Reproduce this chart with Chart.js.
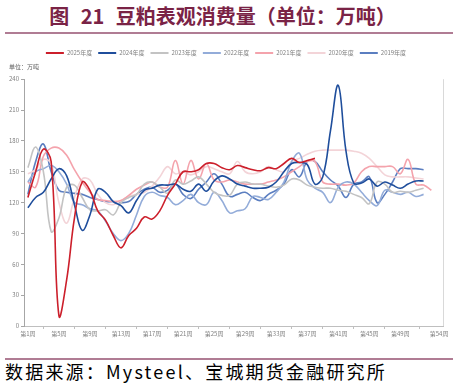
<!DOCTYPE html>
<html>
<head>
<meta charset="utf-8">
<script src="https://cdn.jsdelivr.net/npm/chart.js@4"></script>
<style>
  html, body { margin: 0; padding: 0; background: #fff; }
  body { width: 459px; height: 392px; position: relative; overflow: hidden; font-family: "Noto Sans CJK SC", sans-serif; }
  .title { position: absolute; top: 3px; left: 0; width: 445px; text-align: center; font-size: 20px; font-weight: bold; color: #7a2346; word-spacing: 7px; line-height: 26px; }
  .rule { position: absolute; left: 5px; width: 448px; height: 2px; background: #b07c94; }
  .source { position: absolute; top: 360px; left: 5px; font-size: 18px; color: #000; letter-spacing: 2.2px; line-height: 22px; white-space: nowrap; }
  #wrap { position: absolute; left: 0; top: 40px; width: 459px; height: 312px; }
</style>
</head>
<body>
<div class="title">图 21 豆粕表观消费量（单位：万吨）</div>
<div class="rule" style="top:32px"></div>
<div id="wrap"><canvas id="chart"></canvas></div>
<div class="rule" style="top:358px"></div>
<div class="source">数据来源：Mysteel、宝城期货金融研究所</div>
<script>
// weeks 第1周 .. 第54周
const weeks = [];
for (let i = 1; i <= 54; i++) weeks.push("第" + i + "周");

const seriesNames = ["2025年度", "2024年度", "2023年度", "2022年度", "2021年度", "2020年度", "2019年度"];

// 单位：万吨
const y2025 = [125, 150, 172, 160, 10, 45, 105, 140, 132, 112, 103, 88, 76, 88, 95, 106, 104, 112, 127, 138, 150, 150, 152, 158, 158, 154, 152, 156, 154, 152, 151, 154, 153, 158, 163, 159, 161, 163];
const y2024 = [115, 125, 130, 143, 153, 146, 118, 93, 108, 133, 130, 121, 117, 110, 122, 132, 134, 137, 137, 138, 133, 131, 138, 131, 141, 146, 143, 138, 136, 134, 134, 135, 140, 150, 158, 159, 157, 138, 145, 190, 234, 170, 139, 139, 143, 136, 140, 137, 134, 138, 141, 141];
const y2023 = [154, 174, 150, 92, 105, 135, 137, 125, 113, 112, 113, 108, 120, 125, 128, 138, 140, 135, 129, 142, 138, 141, 145, 138, 130, 127, 127, 138, 140, 138, 138, 136, 135, 137, 143, 142, 137, 135, 134, 134, 132, 131, 128, 125, 119, 140, 138, 130, 131, 130, 132, 134];
const y2022 = [140, 150, 153, 156, 150, 138, 120, 118, 114, 112, 102, 90, 83, 90, 108, 126, 130, 127, 125, 118, 122, 128, 120, 118, 130, 122, 110, 112, 114, 126, 125, 123, 130, 140, 160, 168, 142, 134, 130, 120, 135, 140, 138, 130, 122, 117, 132, 130, 128, 130, 126, 128];
const y2021 = [140, 135, 165, 173, 173, 166, 152, 140, 130, 123, 122, 121, 122, 127, 133, 137, 140, 135, 135, 161, 138, 161, 143, 158, 142, 140, 142, 140, 138, 138, 138, 140, 142, 145, 150, 155, 160, 160, 140, 138, 138, 137, 139, 150, 155, 155, 155, 155, 148, 162, 138, 137, 132];
const y2020 = [148, 152, 162, 158, 120, 100, 125, 143, 142, 128, 120, 118, 122, 126, 128, 130, 136, 145, 155, 148, 150, 147, 150, 155, 153, 150, 148, 160, 150, 148, 150, 155, 152, 150, 160, 163, 167, 170, 171, 171, 171, 171, 170, 168, 163, 155, 147, 145, 145, 145, 144, 143];
const y2019 = [128, 160, 177, 150, 132, 130, 129, 128, 125, 123, 121, 121, 120, 121, 128, 133, 135, 130, 132, 138, 128, 124, 133, 140, 148, 138, 126, 128, 130, 125, 122, 128, 132, 138, 152, 145, 160, 160, 150, 142, 136, 125, 138, 140, 145, 120, 128, 140, 153, 153, 153, 152];

const yTicks = [0, 30, 60, 90, 120, 150, 180, 210, 240];

const colors = ["#cc1f2b", "#1f4e9c", "#c3c3c3", "#93acd9", "#f4a3ac", "#f3d4d8", "#5b7ec0"];
const values = [y2025, y2024, y2023, y2022, y2021, y2020, y2019];

Chart.defaults.font.family = "'Noto Sans CJK SC', sans-serif";
Chart.defaults.color = "#808080";

// right border of the plot area
const frame = {
    id: "frame",
    afterDraw(chart) {
        const a = chart.chartArea;
        const ctx = chart.ctx;
        ctx.save();
        ctx.strokeStyle = "#d9d9d9";
        ctx.lineWidth = 1;
        ctx.beginPath();
        ctx.moveTo(a.right + 0.5, a.top);
        ctx.lineTo(a.right + 0.5, a.bottom);
        ctx.stroke();
        ctx.restore();
    }
};

const ctx = document.getElementById("chart").getContext("2d");
const chart = new Chart(ctx, {
    type: "line",
    data: {
        labels: weeks,
        datasets: seriesNames.map((name, i) => ({
            label: name,
            data: values[i],
            borderColor: colors[i],
            backgroundColor: colors[i],
            borderWidth: 1.6,
            pointRadius: 0,
            tension: 0.4,
            fill: false,
        })),
    },
    options: {
        responsive: true,
        maintainAspectRatio: false,
        animation: false,
        layout: { padding: { top: 4, left: 9, right: 16, bottom: 0 } },
        plugins: {
            legend: {
                labels: {
                    boxWidth: 18,
                    boxHeight: 2,
                    padding: 6,
                    font: { size: 6 },
                    color: "#808080",
                    generateLabels(chart) {
                        return Chart.defaults.plugins.legend.labels.generateLabels(chart)
                            .map(l => ({ ...l, lineWidth: 0, fillStyle: l.strokeStyle }));
                    },
                },
            },
            title: {
                display: true,
                text: "单位：万吨",
                align: "start",
                weight: 500,
                color: "#606060",
                font: { size: 6, weight: "normal" },
                padding: { top: -3, bottom: 9 },
            },
            tooltip: { enabled: false },
        },
        scales: {
            x: {
                offset: true,
                grid: { offset: true, drawOnChartArea: false, tickLength: 3, color: "#bfbfbf" },
                border: { color: "#bfbfbf" },
                ticks: {
                    autoSkip: false,
                    maxRotation: 0,
                    padding: 1,
                    font: { size: 6 },
                    callback(v, i) {
                        return (i % 4 === 0 && i <= 48) || i === 53 ? weeks[i] : null;
                    },
                },
                afterFit(scale) { scale.height = 26; },
            },
            y: {
                min: 0,
                max: 240,
                afterBuildTicks(scale) { scale.ticks = yTicks.map(v => ({ value: v })); },
                grid: { drawOnChartArea: false, tickLength: 3, color: "#a6a6a6" },
                border: { color: "#a6a6a6" },
                ticks: { padding: 2, font: { size: 6 } },
                afterFit(scale) { scale.width = 15; },
            },
        },
    },
    plugins: [frame],
});
</script>
</body>
</html>
